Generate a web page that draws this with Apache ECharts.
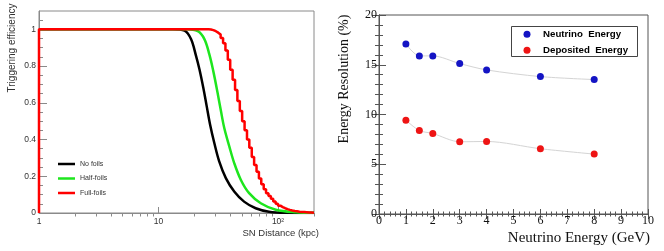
<!DOCTYPE html>
<html>
<head>
<meta charset="utf-8">
<script src="https://cdn.jsdelivr.net/npm/echarts@6/dist/echarts.min.js"></script>
<style>
  html, body { margin: 0; padding: 0; background: #fff; }
  #chart { width: 664px; height: 251px; }
</style>
</head>
<body>
<div id="chart"></div>
<script>
// ---- Left panel: triggering efficiency vs SN distance ----
const noFoilsDist   = [1, 13.2, 16.5, 18.7, 20.6, 22.0, 23.7, 25.3, 27.0, 29.3, 32.2, 36.6, 43, 52, 65, 84, 116, 200];
const noFoilsEff    = [1, 1, 0.993, 0.947, 0.856, 0.783, 0.682, 0.582, 0.482, 0.381, 0.281, 0.19, 0.117, 0.062, 0.026, 0.007, 0.001, 0];
const halfFoilsDist = [1, 17, 21.3, 24.2, 26.6, 28.7, 31.2, 33.3, 35.5, 39.1, 43, 48.9, 57.3, 71.7, 95.7, 140, 200];
const halfFoilsEff  = [1, 1, 0.99, 0.947, 0.865, 0.774, 0.655, 0.555, 0.463, 0.363, 0.272, 0.18, 0.108, 0.053, 0.018, 0.004, 0.001];
const fullFoilsDist = [1, 1, 25.1, 26.3, 27.5, 28.8, 30.2, 31.6, 33.1, 34.7, 36.3, 38.0, 39.8, 41.7, 43.7, 45.7, 47.9, 50.1, 52.5, 55.0, 57.5, 60.3, 63.1, 66.1, 69.2, 72.4, 75.9, 79.4, 83.2, 87.1, 91.2, 95.5, 100, 104.7, 109.6, 114.8, 120.2, 125.9, 131.8, 138.0, 144.5, 151.4, 158.5, 166.0, 173.8, 182.0, 190.5, 200];
const fullFoilsEff  = [0, 1, 1, 0.999, 0.996, 0.99, 0.982, 0.972, 0.953, 0.925, 0.885, 0.835, 0.78, 0.725, 0.67, 0.61, 0.555, 0.50, 0.45, 0.40, 0.355, 0.305, 0.262, 0.225, 0.188, 0.157, 0.13, 0.108, 0.092, 0.077, 0.063, 0.051, 0.04, 0.032, 0.026, 0.021, 0.017, 0.014, 0.011, 0.009, 0.007, 0.006, 0.005, 0.004, 0.003, 0.003, 0.002, 0.002];
const effTicks      = [0, 0.2, 0.4, 0.6, 0.8, 1];
const effMinorTicks = [0.05, 0.1, 0.15, 0.25, 0.3, 0.35, 0.45, 0.5, 0.55, 0.65, 0.7, 0.75, 0.85, 0.9, 0.95, 1.05];
const distTicks     = [1, 10, 100];
const distMinorTicks = [2, 3, 4, 5, 6, 7, 8, 9, 20, 30, 40, 50, 60, 70, 80, 90, 200];

// ---- Right panel: energy resolution vs neutrino energy ----
const energies     = [1, 1.5, 2, 3, 4, 6, 8];
const neutrinoRes  = [17.09, 15.89, 15.89, 15.12, 14.48, 13.81, 13.51];
const depositedRes = [9.43, 8.39, 8.09, 7.26, 7.29, 6.56, 6.02];

const zip = (a, b) => a.map((v, i) => [v, b[i]]);

const sans = 'Liberation Sans, Arial, sans-serif';
const serif = 'Liberation Serif, Times New Roman, serif';
const leftAxisColor = '#8a8a8a';
const rightAxisColor = '#555';

const chart = echarts.init(document.getElementById('chart'), null, { renderer: 'canvas' });
chart.setOption({
  animation: false,
  backgroundColor: '#fff',
  grid: [
    { left: 39, right: 350, top: 11, bottom: 38, show: true, borderColor: leftAxisColor, borderWidth: 1, backgroundColor: 'transparent' },
    { left: 379, right: 16, top: 15, bottom: 37, show: true, borderColor: rightAxisColor, borderWidth: 1, backgroundColor: 'transparent' }
  ],
  xAxis: [
    {
      type: 'log', gridIndex: 0, logBase: 10, min: 1, max: 200,
      axisLine: { show: true, lineStyle: { color: leftAxisColor, width: 1 } },
      axisTick: { show: true, inside: true, length: 6, customValues: distTicks, lineStyle: { color: leftAxisColor } },
      axisLabel: {
        show: true, customValues: distTicks, margin: 4, color: '#333', fontFamily: sans, fontSize: 8.5,
        formatter: v => (Math.abs(v - 100) < 1e-6 ? '10\u00B2' : String(Math.round(v)))
      },
      splitLine: { show: false },
      name: 'SN Distance (kpc)', nameLocation: 'end', nameGap: 5,
      nameTextStyle: { align: 'right', verticalAlign: 'top', padding: [15, 0, 0, 0], color: '#333', fontFamily: sans, fontSize: 9.5 }
    },
    {
      type: 'log', gridIndex: 0, logBase: 10, min: 1, max: 200,
      axisLine: { show: false },
      axisTick: { show: true, inside: true, length: 3.5, customValues: distMinorTicks, lineStyle: { color: leftAxisColor } },
      axisLabel: { show: false },
      splitLine: { show: false }
    },
    {
      type: 'value', gridIndex: 1, min: 0, max: 10, interval: 1,
      axisLine: { show: true, lineStyle: { color: rightAxisColor } },
      axisTick: { show: true, inside: true, length: 5, lineStyle: { color: rightAxisColor } },
      minorTick: { show: true, splitNumber: 5, length: 2.5, lineStyle: { color: rightAxisColor } },
      axisLabel: { margin: 1, color: '#111', fontFamily: serif, fontSize: 12 },
      splitLine: { show: false },
      name: 'Neutrino Energy (GeV)', nameLocation: 'end', nameGap: 2,
      nameTextStyle: { align: 'right', verticalAlign: 'top', padding: [17, 0, 0, 0], color: '#111', fontFamily: serif, fontSize: 15 }
    },
    {
      type: 'value', gridIndex: 1, min: 0, max: 10, interval: 1, position: 'top',
      axisLine: { show: true, lineStyle: { color: rightAxisColor } },
      axisTick: { show: true, inside: true, length: 5, lineStyle: { color: rightAxisColor } },
      minorTick: { show: true, splitNumber: 5, length: 2.5, lineStyle: { color: rightAxisColor } },
      axisLabel: { show: false },
      splitLine: { show: false }
    }
  ],
  yAxis: [
    {
      type: 'value', gridIndex: 0, min: 0, max: 1.1,
      axisLine: { show: true, lineStyle: { color: leftAxisColor } },
      axisTick: { show: true, inside: true, length: 8, customValues: effTicks, lineStyle: { color: leftAxisColor } },
      axisLabel: { show: true, customValues: effTicks, margin: 3, color: '#333', fontFamily: sans, fontSize: 8.5 },
      splitLine: { show: false },
      name: 'Triggering efficiency', nameLocation: 'middle', nameGap: 22, nameRotate: 90,
      nameTextStyle: { color: '#333', fontFamily: sans, fontSize: 10, padding: [0, 0, 0, 128] }
    },
    {
      type: 'value', gridIndex: 0, min: 0, max: 1.1, position: 'left',
      axisLine: { show: false },
      axisTick: { show: true, inside: true, length: 4, customValues: effMinorTicks, lineStyle: { color: leftAxisColor } },
      axisLabel: { show: false },
      splitLine: { show: false }
    },
    {
      type: 'value', gridIndex: 1, min: 0, max: 20, interval: 5,
      axisLine: { show: true, lineStyle: { color: rightAxisColor } },
      axisTick: { show: true, inside: true, length: 7, lineStyle: { color: rightAxisColor } },
      minorTick: { show: true, splitNumber: 5, length: 4, lineStyle: { color: rightAxisColor } },
      axisLabel: { margin: 2, color: '#111', fontFamily: serif, fontSize: 12 },
      splitLine: { show: false },
      name: 'Energy Resolution (%)', nameLocation: 'middle', nameGap: 28, nameRotate: 90,
      nameTextStyle: { color: '#111', fontFamily: serif, fontSize: 14, padding: [0, 0, 0, 71] }
    },
    {
      type: 'value', gridIndex: 1, min: 0, max: 20, interval: 5, position: 'right',
      axisLine: { show: true, lineStyle: { color: rightAxisColor } },
      axisTick: { show: true, inside: true, length: 7, lineStyle: { color: rightAxisColor } },
      minorTick: { show: true, splitNumber: 5, length: 4, lineStyle: { color: rightAxisColor } },
      axisLabel: { show: false },
      splitLine: { show: false }
    }
  ],
  legend: [
    {
      data: ['No foils', 'Half-foils', 'Full-foils'],
      orient: 'vertical', left: 58, top: 160, itemGap: 6.5, padding: 0,
      icon: 'rect', itemWidth: 17, itemHeight: 2.5,
      textStyle: { color: '#333', fontFamily: sans, fontSize: 7, lineHeight: 8 },
      selectedMode: false
    },
    {
      data: ['Neutrino  Energy', 'Deposited  Energy'],
      orient: 'vertical', left: 523.5, top: 28.3, itemGap: 4, z: 10, padding: 0,
      icon: 'circle', itemWidth: 7, itemHeight: 7,
      textStyle: { color: '#000', fontFamily: sans, fontSize: 9.7, fontWeight: 'bold', lineHeight: 12, padding: [0, 0, 0, 7.5] },
      selectedMode: false
    }
  ],
  graphic: [
    { type: 'rect', z: 1, shape: { x: 511.5, y: 26.5, width: 126, height: 30 }, style: { fill: '#fff', stroke: '#444', lineWidth: 1 } }
  ],
  series: [
    {
      name: 'No foils', type: 'line', xAxisIndex: 0, yAxisIndex: 0,
      data: zip(noFoilsDist, noFoilsEff), showSymbol: false, symbol: 'none',
      smooth: 0.35, lineStyle: { color: '#000', width: 2.5 }, itemStyle: { color: '#000' }
    },
    {
      name: 'Half-foils', type: 'line', xAxisIndex: 0, yAxisIndex: 0,
      data: zip(halfFoilsDist, halfFoilsEff), showSymbol: false, symbol: 'none',
      smooth: 0.35, lineStyle: { color: '#1ee61e', width: 2.5 }, itemStyle: { color: '#1ee61e' }
    },
    {
      name: 'Full-foils', type: 'line', xAxisIndex: 0, yAxisIndex: 0,
      data: zip(fullFoilsDist, fullFoilsEff), showSymbol: false, symbol: 'none',
      step: 'end', lineStyle: { color: '#ff0000', width: 2.5 }, itemStyle: { color: '#ff0000' }
    },
    {
      name: 'Neutrino  Energy', type: 'line', xAxisIndex: 2, yAxisIndex: 2,
      data: zip(energies, neutrinoRes), symbol: 'circle', symbolSize: 7, smooth: 0.3,
      lineStyle: { color: '#d4d4d4', width: 1 }, itemStyle: { color: '#1414c4' }
    },
    {
      name: 'Deposited  Energy', type: 'line', xAxisIndex: 2, yAxisIndex: 2,
      data: zip(energies, depositedRes), symbol: 'circle', symbolSize: 7, smooth: 0.3,
      lineStyle: { color: '#d4d4d4', width: 1 }, itemStyle: { color: '#ee1414' }
    }
  ]
});
</script>
</body>
</html>
